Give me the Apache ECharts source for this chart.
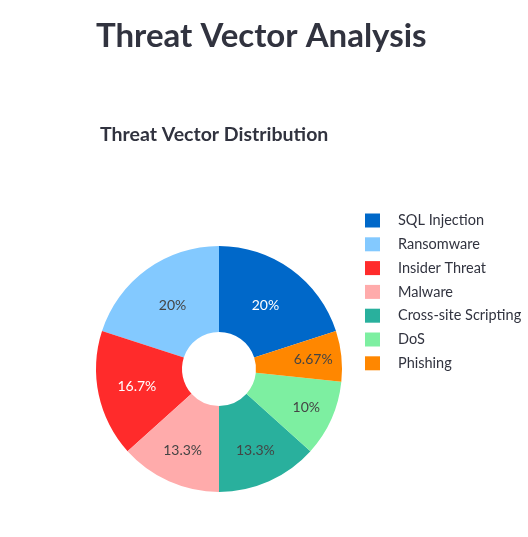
<!DOCTYPE html>
<html>
<head>
<meta charset="utf-8">
<script src="https://cdn.jsdelivr.net/npm/echarts@6/dist/echarts.min.js"></script>
<style>
html,body{margin:0;padding:0;background:#fff;}
#chart{width:528px;height:537px;}
</style>
</head>
<body>
<div id="chart"></div>
<script>
const mainTitle = 'Threat Vector Analysis';
const chartTitle = 'Threat Vector Distribution';
const categories = ['SQL Injection', 'Ransomware', 'Insider Threat', 'Malware', 'Cross-site Scripting', 'DoS', 'Phishing'];
const counts = [6, 6, 5, 4, 4, 3, 2];
const colors = ['#0068C9', '#83C9FF', '#FF2B2B', '#FFABAB', '#29B09D', '#7DEFA1', '#FF8700'];
const labelColors = ['#ffffff', '#444444', '#ffffff', '#444444', '#444444', '#444444', '#444444'];
// radial distance of each inside label from the pie centre (style)
const labelRadius = [79, 79, 84, 89.5, 89.5, 95.5, 94.7];

const total = counts.reduce((a, b) => a + b, 0);
const FONT = 'Lato, "Noto Sans", sans-serif';
const CENTER = [219, 369];

const data = categories.map((c, i) => ({
  name: c,
  value: counts[i],
  itemStyle: { color: colors[i] },
  label: { color: labelColors[i] }
}));

const chart = echarts.init(document.getElementById('chart'), null, { renderer: 'canvas' });
chart.setOption({
  animation: false,
  title: [
    { text: mainTitle, left: 91, top: 15,
      textStyle: { fontFamily: FONT, fontSize: 33, fontWeight: 'bold', color: '#31333F' } },
    { text: chartTitle, left: 95, top: 120,
      textStyle: { fontFamily: FONT, fontSize: 19.5, fontWeight: 'bold', color: '#31333F' } }
  ],
  legend: {
    orient: 'vertical',
    left: 360,
    top: 208,
    icon: 'rect',
    itemWidth: 15,
    itemHeight: 14,
    itemGap: 8.8,
    data: categories,
    textStyle: { fontFamily: FONT, fontSize: 14.5, lineHeight: 14, color: '#31333F', padding: [0, 0, 0, 13] }
  },
  series: [{
    type: 'pie',
    center: CENTER,
    radius: [37, 123],
    clockwise: false,
    startAngle: 90 - 360 * counts[0] / total,
    avoidLabelOverlap: false,
    itemStyle: { borderWidth: 0 },
    label: {
      show: true,
      position: 'inside',
      fontFamily: FONT,
      fontSize: 14,
      formatter: p => parseFloat((p.value / total * 100).toPrecision(3)) + '%'
    },
    labelLayout: function (params) {
      const r = params.labelRect;
      const cx = r.x + r.width / 2, cy = r.y + r.height / 2;
      const vx = cx - CENTER[0], vy = cy - CENTER[1];
      const d = Math.hypot(vx, vy) || 1;
      const k = labelRadius[params.dataIndex] / d - 1;
      return { dx: vx * k, dy: vy * k };
    },
    labelLine: { show: false },
    emphasis: { disabled: true },
    data: data
  }]
});
</script>
</body>
</html>
